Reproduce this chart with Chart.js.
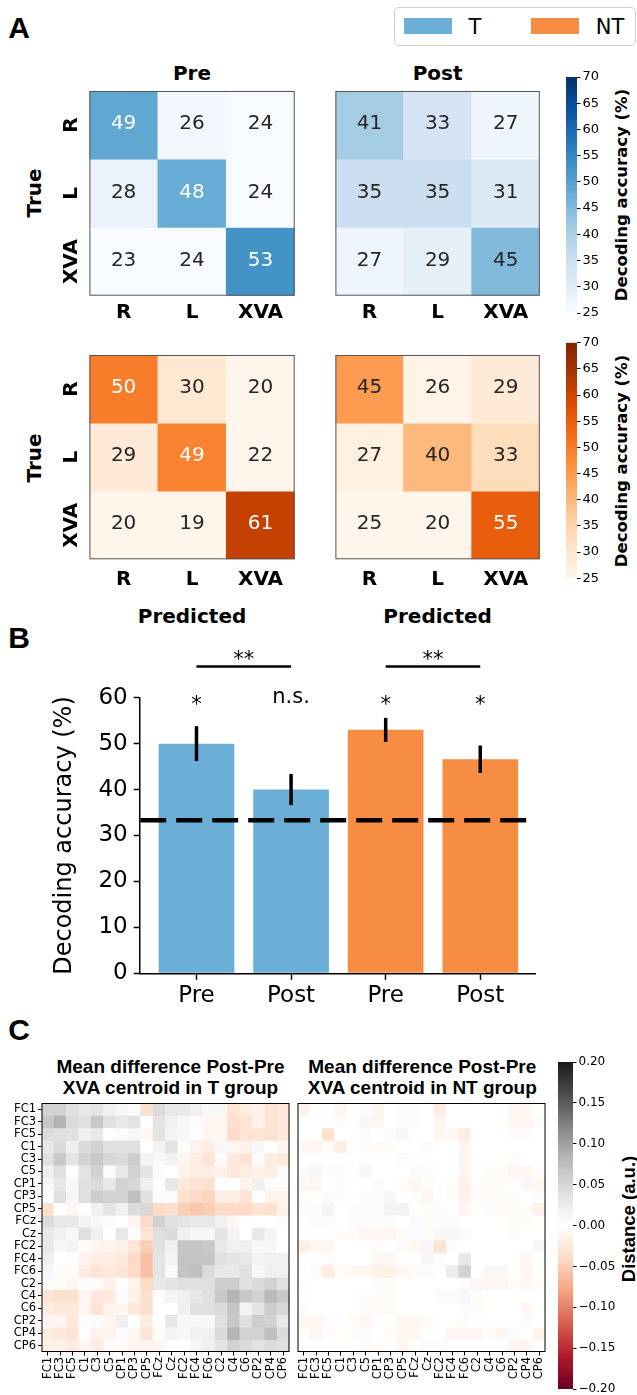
<!DOCTYPE html>
<html>
<head>
<meta charset="utf-8">
<script src="https://cdn.jsdelivr.net/npm/chart.js@4.4.1/dist/chart.umd.min.js"></script>
<style>
  body { margin: 0; width: 637px; height: 1395px; position: relative; overflow: hidden; background: #fff; font-family: "DejaVu Sans"; color: #000; }
  canvas { position: absolute; }
  .t { position: absolute; line-height: 1; white-space: nowrap; transform: translate(-50%, -50%); }
  .r { transform: translate(-50%, -50%) rotate(-90deg); }
  .b { font-weight: bold; }
  .letter { font: bold 30px "Liberation Sans"; }
  .ctitle { position: absolute; transform: translateX(-50%); font: bold 19px "Liberation Sans"; line-height: 20.3px; text-align: center; white-space: nowrap; }
</style>
</head>
<body>
<div class="t letter" style="left:19px;top:27.5px">A</div>
<div class="t letter" style="left:19px;top:637.5px">B</div>
<div class="t letter" style="left:19px;top:1030px">C</div>

<div style="position:absolute;left:394px;top:7px;width:240px;height:37px;border:1.5px solid #cfcfcf;border-radius:5px;background:#fff"></div>
<div style="position:absolute;left:404px;top:18px;width:48px;height:16px;background:#6baed6"></div>
<div class="t" style="left:475px;top:26.7px;font-size:21px">T</div>
<div style="position:absolute;left:531px;top:18px;width:48px;height:16px;background:#f68d43"></div>
<div class="t" style="left:610px;top:26.7px;font-size:21px">NT</div>

<div class="t b" style="left:192px;top:72.5px;font-size:20px">Pre</div>
<div class="t b" style="left:437.6px;top:72.5px;font-size:20px">Post</div>
<div class="t b r" style="left:33.5px;top:193px;font-size:20px">True</div>
<div class="t b r" style="left:33.5px;top:457.5px;font-size:20px">True</div>
<div class="t b" style="left:192px;top:616px;font-size:20px">Predicted</div>
<div class="t b" style="left:437.6px;top:616px;font-size:20px">Predicted</div>
<div class="t b r" style="left:622px;top:194.5px;font-size:16.5px">Decoding accuracy (%)</div>
<div class="t b r" style="left:622px;top:460.5px;font-size:16.5px">Decoding accuracy (%)</div>

<div class="ctitle" style="left:170.5px;top:1057.3px">Mean difference Post-Pre<br>XVA centroid in T group</div>
<div class="ctitle" style="left:422.3px;top:1057.3px">Mean difference Post-Pre<br>XVA centroid in NT group</div>
<div class="t r" style="left:629px;top:1218.5px;font:bold 18.5px 'Liberation Sans'">Distance (a.u.)</div>

<script>
// panel A: confusion matrices (%), rows = true, cols = predicted
const classes = ["R", "L", "XVA"];
const cmPreT = [[49, 26, 24], [28, 48, 24], [23, 24, 53]];
const cmPostT = [[41, 33, 27], [35, 35, 31], [27, 29, 45]];
const cmPreNT = [[50, 30, 20], [29, 49, 22], [20, 19, 61]];
const cmPostNT = [[45, 26, 29], [27, 40, 33], [25, 20, 55]];
const cmRange = [25, 70];

// panel B
const sessions = ["Pre", "Post", "Pre", "Post"];
const accuracy = [50, 40, 53, 46.6];
const accuracyErr = [3.8, 3.4, 2.6, 3.0];
const barGroups = ["T", "T", "NT", "NT"];
const barMarks = ["*", "n.s.", "*", "*"];
const sigPairs = [[0, 1], [2, 3]];
const sigMarks = ["**", "**"];
const chance = 33.33;

// panel C: mean difference Post-Pre
const channels = ["FC1", "FC3", "FC5", "C1", "C3", "C5", "CP1", "CP3", "CP5", "FCz",
  "Cz", "FC2", "FC4", "FC6", "C2", "C4", "C6", "CP2", "CP4", "CP6"];
const diffT = [
  [0.055, 0.055, 0.04, 0.03, 0.035, 0.02, 0.01, 0.005, -0.035, 0.045, 0.03, 0.03, 0.02, 0.01, 0.01, -0.03, -0.02, -0.015, -0.03, -0.025],
  [0.065, 0.085, 0.045, 0.04, 0.065, 0.04, 0.03, 0.035, 0, 0.035, 0.02, 0.01, -0.005, -0.01, -0.01, -0.035, -0.03, -0.015, -0.03, -0.025],
  [0.045, 0.04, 0.04, 0.02, 0.03, 0, 0.005, 0.01, -0.01, 0.035, 0.015, 0.01, 0, -0.01, -0.01, -0.04, -0.03, -0.03, -0.035, -0.025],
  [0.03, 0.045, 0.02, 0.045, 0.055, 0.04, 0.04, 0.04, 0, 0.015, 0.035, -0.005, -0.015, -0.02, 0.01, -0.01, -0.015, 0.01, 0, -0.01],
  [0.04, 0.065, 0.035, 0.055, 0.065, 0.05, 0.045, 0.06, 0.015, 0.01, 0.015, -0.01, -0.02, -0.03, -0.005, -0.025, -0.03, 0.005, -0.02, -0.025],
  [0.02, 0.04, 0, 0.035, 0.055, 0.005, 0.03, 0.055, 0.035, 0.005, 0, -0.015, -0.02, -0.02, -0.015, -0.025, -0.02, -0.015, -0.02, -0.005],
  [0.01, 0.03, 0.01, 0.04, 0.045, 0.03, 0.055, 0.05, 0.02, 0, 0.03, -0.025, -0.03, -0.035, 0, 0, -0.015, 0.02, 0.005, -0.005],
  [0.005, 0.04, 0.01, 0.04, 0.06, 0.055, 0.055, 0.075, 0.04, -0.005, 0.005, -0.035, -0.04, -0.045, -0.02, -0.02, -0.03, 0, -0.015, -0.015],
  [-0.035, 0, -0.01, 0, 0.02, 0.035, 0.02, 0.045, 0.05, -0.04, -0.035, -0.05, -0.055, -0.05, -0.04, -0.04, -0.04, -0.03, -0.035, -0.015],
  [0.045, 0.03, 0.03, 0.015, 0.01, 0.005, 0, -0.01, -0.04, 0.055, 0.04, 0.035, 0.03, 0.03, 0.02, -0.01, 0, 0, 0, -0.005],
  [0.03, 0.02, 0.01, 0.04, 0.02, 0, 0.03, 0.005, -0.03, 0.04, 0.045, 0.02, 0.01, 0.01, 0.035, 0.015, 0, 0.03, 0.015, 0],
  [0.03, 0.01, 0.015, -0.005, -0.01, -0.015, -0.015, -0.03, -0.05, 0.04, 0.02, 0.07, 0.07, 0.065, 0.03, 0.02, 0.02, 0.01, 0.01, 0],
  [0.02, 0, 0, -0.015, -0.02, -0.02, -0.025, -0.04, -0.06, 0.035, 0.015, 0.07, 0.07, 0.07, 0.04, 0.035, 0.03, 0.015, 0.02, 0.02],
  [0.01, -0.005, -0.005, -0.02, -0.03, -0.025, -0.03, -0.04, -0.06, 0.035, 0.005, 0.07, 0.075, 0.045, 0.03, 0.03, 0.04, 0.01, 0.02, 0.02],
  [0.005, -0.005, -0.01, 0.005, -0.005, -0.015, 0, -0.015, -0.04, 0.03, 0.035, 0.04, 0.04, 0.04, 0.06, 0.06, 0.04, 0.045, 0.055, 0.04],
  [-0.03, -0.035, -0.035, -0.01, -0.025, -0.025, 0.005, -0.015, -0.035, -0.005, 0.015, 0.02, 0.03, 0.04, 0.065, 0.085, 0.065, 0.055, 0.08, 0.065],
  [-0.02, -0.025, -0.025, -0.01, -0.03, -0.015, -0.01, -0.025, -0.035, 0, 0, 0.02, 0.04, 0.04, 0.045, 0.07, 0.015, 0.035, 0.06, 0.05],
  [-0.01, -0.01, -0.025, 0.005, 0.005, -0.01, 0.02, 0, -0.02, 0, 0.03, 0.01, 0.01, 0.01, 0.04, 0.065, 0.04, 0.06, 0.055, 0.03],
  [-0.02, -0.025, -0.03, 0, -0.015, -0.015, 0.005, -0.01, -0.03, -0.005, 0.015, 0.01, 0.02, 0.02, 0.045, 0.085, 0.055, 0.055, 0.075, 0.045],
  [-0.015, -0.015, -0.02, -0.01, -0.02, -0.005, -0.005, -0.01, -0.01, -0.01, 0, 0, 0.01, 0.02, 0.035, 0.055, 0.045, 0.035, 0.045, 0.04]
];
const diffNT = [
  [-0.015, 0, 0, -0.01, 0, 0.005, -0.01, 0, 0.005, 0.005, 0, -0.02, 0, 0, 0, 0, 0, -0.01, -0.01, 0],
  [0, 0, 0, -0.005, 0, 0.01, -0.01, 0, 0.005, 0.005, 0, -0.01, 0, 0, 0, 0, 0, -0.01, -0.01, 0.005],
  [0, 0, -0.035, 0, 0, 0.005, 0, 0.005, 0.01, 0, 0, -0.01, -0.01, -0.02, 0, 0, 0, -0.005, -0.005, 0],
  [-0.01, -0.01, -0.005, -0.02, 0, -0.005, -0.005, -0.005, 0, 0, -0.005, 0, 0, -0.01, 0, 0, 0, 0, 0, 0],
  [0, 0, 0, 0, 0, 0, 0, 0, 0.005, 0, 0, 0, 0, -0.01, 0, 0, 0, -0.005, 0, 0],
  [0.005, 0.01, 0.005, -0.005, 0, 0.01, 0, 0, 0, 0.005, -0.005, 0, 0, -0.01, 0, -0.005, -0.005, -0.01, -0.01, -0.005],
  [-0.01, -0.01, 0, -0.005, 0, 0, 0.005, 0, -0.005, -0.01, -0.005, 0, -0.005, -0.015, -0.005, -0.005, -0.005, 0, 0.01, -0.01],
  [-0.005, 0, 0.005, -0.005, 0, 0.005, 0.005, 0.01, 0, -0.005, -0.01, 0, -0.005, -0.015, -0.005, -0.005, -0.005, -0.005, 0, -0.005],
  [0.005, 0.005, 0.015, 0, 0.005, 0.005, 0.005, 0.015, 0.015, 0, -0.005, 0.005, 0, -0.01, 0, -0.005, -0.005, -0.005, -0.005, -0.015],
  [0, 0.005, 0.005, 0, 0.005, -0.005, -0.005, 0.005, 0, 0.005, -0.005, -0.005, 0.005, 0, 0, 0, 0, -0.005, -0.005, 0],
  [0, 0, 0, -0.005, -0.005, -0.01, -0.01, -0.01, -0.005, 0.005, -0.005, 0.01, 0.01, 0.005, 0, 0, 0, -0.005, 0, 0],
  [-0.02, -0.01, -0.01, 0, 0, 0, -0.005, 0, 0.005, -0.01, 0.01, -0.03, -0.005, 0, 0, 0, 0, 0, 0, 0.01],
  [0, 0, -0.005, 0, 0, 0, -0.01, -0.01, 0, 0, 0.01, -0.005, 0, 0.03, 0, 0, 0, 0, -0.01, 0],
  [0, -0.005, -0.02, -0.005, -0.01, -0.01, -0.015, -0.015, -0.01, 0.005, 0.005, 0, 0.025, 0.055, 0, 0.01, 0.01, 0, -0.01, 0],
  [-0.005, 0, 0, 0, 0, 0, -0.005, -0.005, 0, 0, 0, 0, 0, 0.005, -0.01, -0.01, -0.01, -0.005, -0.01, -0.005],
  [0, 0, 0, 0, 0, -0.005, -0.005, -0.005, 0, 0, 0, 0.005, 0.005, 0.01, -0.005, 0, 0, 0, 0, 0],
  [0.005, 0, 0, 0, 0, -0.005, -0.005, -0.005, 0, 0, 0, 0, 0, 0.005, -0.005, 0, 0, 0, -0.01, 0],
  [-0.01, -0.01, -0.005, 0, -0.005, -0.01, 0, 0, -0.01, -0.01, -0.005, 0, 0, -0.005, 0, 0, 0, 0, 0.005, 0],
  [-0.005, -0.01, -0.005, 0, -0.005, 0.005, 0, -0.005, -0.01, -0.01, 0, 0, -0.01, -0.01, -0.01, -0.005, -0.01, 0.005, 0, -0.015],
  [0, 0, 0, 0, 0, -0.005, -0.005, 0, -0.01, 0, 0.005, 0.005, 0, 0, 0, 0, 0, -0.01, -0.01, 0]
];
const diffRange = [-0.2, 0.2];

const groupColors = { T: "#6baed6", NT: "#f68d43" };
const blues = ["#f7fbff", "#deebf7", "#c6dbef", "#9ecae1", "#6baed6", "#4292c6", "#2171b5", "#08519c", "#08306b"];
const oranges = ["#fff5eb", "#fee6ce", "#fdd0a2", "#fdae6b", "#fd8d3c", "#f16913", "#d94801", "#a63603", "#7f2704"];
const rdgy = ["#67001f", "#b2182b", "#d6604d", "#f4a582", "#fddbc7", "#ffffff", "#e0e0e0", "#bababa", "#878787", "#4d4d4d", "#1a1a1a"];

Chart.defaults.font.family = "'DejaVu Sans'";
Chart.defaults.color = "#000";
Chart.defaults.animation = false;
Chart.defaults.responsive = false;
Chart.defaults.devicePixelRatio = 1;
Chart.defaults.plugins.legend.display = false;
Chart.defaults.plugins.tooltip.enabled = false;

function makeCmap(stops, lo, hi) {
  const rgb = stops.map(h => [1, 3, 5].map(k => parseInt(h.slice(k, k + 2), 16)));
  return v => {
    const t = Math.min(1, Math.max(0, (v - lo) / (hi - lo))) * (rgb.length - 1);
    const k = Math.min(Math.floor(t), rgb.length - 2);
    const f = t - k;
    return rgb[k].map((c, m) => Math.round(c + (rgb[k + 1][m] - c) * f));
  };
}
const css = c => `rgb(${c[0]},${c[1]},${c[2]})`;

// seaborn style: dark text on light cells, white on dark ones
function textOn(rgb) {
  const lin = rgb.map(c => {
    c /= 255;
    return c <= 0.03928 ? c / 12.92 : Math.pow((c + 0.055) / 1.055, 2.4);
  });
  const lum = 0.2126 * lin[0] + 0.7152 * lin[1] + 0.0722 * lin[2];
  return lum > 0.408 ? "#262626" : "#ffffff";
}

function addCanvas(box) {
  const c = document.createElement("canvas");
  c.width = box.w;
  c.height = box.h;
  c.style.left = box.x + "px";
  c.style.top = box.y + "px";
  c.style.width = box.w + "px";
  c.style.height = box.h + "px";
  document.body.appendChild(c);
  return c;
}

function gradientFill(stops) {
  return c => {
    const a = c.chart.chartArea;
    if (!a) return stops[0];
    const g = c.chart.ctx.createLinearGradient(0, a.bottom, 0, a.top);
    stops.forEach((s, k) => g.addColorStop(k / (stops.length - 1), s));
    return g;
  };
}

function noPad(s) {
  s.paddingLeft = s.paddingRight = s.paddingTop = s.paddingBottom = 0;
}

function matrixPlugin(matrix, cmap, rowLabels) {
  return {
    id: "matrixText",
    afterDatasetsDraw(chart) {
      const { ctx, chartArea: a, scales: { y } } = chart;
      ctx.save();
      ctx.font = '20px "DejaVu Sans"';
      ctx.textAlign = "center";
      ctx.textBaseline = "middle";
      matrix.forEach((row, i) => {
        chart.getDatasetMeta(i).data.forEach((bar, j) => {
          ctx.fillStyle = textOn(cmap(row[j]));
          ctx.fillText(String(row[j]), bar.x, (bar.y + bar.base) / 2 - 1);
        });
      });
      ctx.strokeStyle = "#555";
      ctx.lineWidth = 1;
      ctx.strokeRect(a.left + 0.5, a.top + 0.5, a.width - 1, a.height - 1);
      if (rowLabels) {
        ctx.fillStyle = "#000";
        ctx.font = 'bold 20px "DejaVu Sans"';
        classes.forEach((lab, i) => {
          ctx.save();
          ctx.translate(a.left - 17.4, y.getPixelForValue(i + 0.5));
          ctx.rotate(-Math.PI / 2);
          ctx.fillText(lab, 0, 0);
          ctx.restore();
        });
      }
      ctx.restore();
    }
  };
}

function confusionChart(box, area, matrix, stops, rowLabels, tickPad) {
  const cmap = makeCmap(stops, cmRange[0], cmRange[1]);
  const xH = box.y + box.h - area.b;
  return new Chart(addCanvas(box), {
    type: "bar",
    data: {
      labels: classes,
      datasets: matrix.map((row, i) => ({
        data: row.map(() => [i, i + 1]),
        backgroundColor: row.map(v => css(cmap(v))),
        borderWidth: 0,
        barPercentage: 1,
        categoryPercentage: 1,
        grouped: false
      }))
    },
    options: {
      layout: { padding: { left: area.l - box.x, top: area.t - box.y, right: box.x + box.w - area.r, bottom: 0 } },
      scales: {
        x: {
          grid: { display: false, drawTicks: false },
          border: { display: false },
          ticks: { font: { size: 20, weight: "bold" }, padding: tickPad, maxRotation: 0 },
          afterFit: s => { s.height = xH; noPad(s); }
        },
        y: { display: false, min: 0, max: 3, reverse: true }
      }
    },
    plugins: [matrixPlugin(matrix, cmap, rowLabels)]
  });
}

function colorbarChart(box, area, stops, range, step, fontSize, fmt) {
  const yW = box.x + box.w - area.r;
  return new Chart(addCanvas(box), {
    type: "bar",
    data: {
      labels: [""],
      datasets: [{
        data: [[range[0], range[1]]],
        backgroundColor: gradientFill(stops),
        borderWidth: 0,
        barPercentage: 1,
        categoryPercentage: 1
      }]
    },
    options: {
      layout: { padding: { left: area.l - box.x, top: area.t - box.y, right: 0, bottom: box.y + box.h - area.b } },
      scales: {
        x: { display: false },
        y: {
          position: "right",
          min: range[0],
          max: range[1],
          grid: { drawOnChartArea: false, tickLength: 3.5, tickColor: "#000", tickWidth: 1 },
          border: { display: false },
          ticks: { stepSize: step, font: { size: fontSize }, padding: 2, callback: fmt },
          afterFit: s => { s.width = yW; noPad(s); }
        }
      }
    }
  });
}

const framePlugin = {
  id: "frame",
  afterDatasetsDraw(chart) {
    const { ctx, chartArea: a } = chart;
    ctx.save();
    ctx.strokeStyle = "#000";
    ctx.lineWidth = 1;
    ctx.strokeRect(a.left + 0.5, a.top + 0.5, a.width - 1, a.height - 1);
    ctx.restore();
  }
};

function heatmapChart(box, area, matrix, showY) {
  const cmap = makeCmap(rdgy, diffRange[0], diffRange[1]);
  const yW = showY ? area.l - box.x : 0;
  const xH = box.y + box.h - area.b;
  return new Chart(addCanvas(box), {
    type: "bar",
    data: {
      labels: channels,
      datasets: matrix.map((row, i) => ({
        data: row.map(() => [i, i + 1]),
        backgroundColor: row.map(v => css(cmap(v))),
        borderWidth: 0,
        barPercentage: 1,
        categoryPercentage: 1,
        grouped: false
      }))
    },
    options: {
      layout: { padding: { left: area.l - box.x - yW, top: area.t - box.y, right: box.x + box.w - area.r, bottom: 0 } },
      scales: {
        x: {
          grid: { drawOnChartArea: false, offset: false, tickLength: 3.5, tickColor: "#000", tickWidth: 1 },
          border: { display: false },
          ticks: { font: { size: 11.5 }, padding: 1.5, minRotation: 90, maxRotation: 90, autoSkip: false },
          afterFit: s => { s.height = xH; noPad(s); }
        },
        y: {
          display: showY,
          min: 0,
          max: channels.length,
          reverse: true,
          grid: { drawOnChartArea: false, tickLength: 3.5, tickColor: "#000", tickWidth: 1 },
          border: { display: false },
          afterBuildTicks: s => { s.ticks = channels.map((c, i) => ({ value: i + 0.5 })); },
          ticks: { font: { size: 11.5 }, padding: 2, autoSkip: false, callback: (v, i) => channels[i] },
          afterFit: s => { s.width = yW; noPad(s); }
        }
      }
    },
    plugins: [framePlugin]
  });
}

// panel B annotations: error bars and significance marks
const barAnnotations = {
  id: "barAnnotations",
  afterDatasetsDraw(chart) {
    const { ctx, scales: { x, y } } = chart;
    ctx.save();
    ctx.strokeStyle = "#000";
    ctx.fillStyle = "#000";
    ctx.lineWidth = 3.5;
    accuracy.forEach((v, i) => {
      const px = x.getPixelForValue(i);
      ctx.beginPath();
      ctx.moveTo(px, y.getPixelForValue(v - accuracyErr[i]));
      ctx.lineTo(px, y.getPixelForValue(v + accuracyErr[i]));
      ctx.stroke();
    });
    ctx.font = '21px "DejaVu Sans"';
    ctx.textAlign = "center";
    ctx.textBaseline = "alphabetic";
    barMarks.forEach((m, i) => {
      ctx.fillText(m, x.getPixelForValue(i), y.getPixelForValue(m === "*" ? 57.1 : 58.85));
    });
    ctx.lineWidth = 2.5;
    sigPairs.forEach(([a, b], k) => {
      const ly = y.getPixelForValue(66.8);
      ctx.beginPath();
      ctx.moveTo(x.getPixelForValue(a), ly);
      ctx.lineTo(x.getPixelForValue(b), ly);
      ctx.stroke();
      ctx.fillText(sigMarks[k], x.getPixelForValue((a + b) / 2), y.getPixelForValue(66.8));
    });
    ctx.restore();
  }
};

function init() {
  const cmTop = { t: 91, b: 295.7 };
  const cmBot = { t: 355, b: 559.3 };
  confusionChart({ x: 45, y: 85, w: 255, h: 245 }, { l: 89.4, r: 294.7, ...cmTop }, cmPreT, blues, true, 5);
  confusionChart({ x: 300, y: 85, w: 250, h: 245 }, { l: 335.4, r: 539.8, ...cmTop }, cmPostT, blues, false, 5);
  confusionChart({ x: 45, y: 349, w: 255, h: 245 }, { l: 89.4, r: 294.7, ...cmBot }, cmPreNT, oranges, true, 8);
  confusionChart({ x: 300, y: 349, w: 250, h: 245 }, { l: 335.4, r: 539.8, ...cmBot }, cmPostNT, oranges, false, 8);
  colorbarChart({ x: 556, y: 70, w: 81, h: 250 }, { l: 566, r: 577, t: 77, b: 313 }, blues, cmRange, 5, 13);
  colorbarChart({ x: 556, y: 335, w: 81, h: 250 }, { l: 566, r: 577, t: 342.7, b: 578.3 }, oranges, cmRange, 5, 13);

  initBars();

  heatmapChart({ x: 0, y: 1097, w: 294, h: 298 }, { l: 41.5, r: 289.5, t: 1103, b: 1352 }, diffT, true);
  heatmapChart({ x: 293, y: 1097, w: 258, h: 298 }, { l: 297.5, r: 545.5, t: 1103, b: 1352 }, diffNT, false);
  colorbarChart({ x: 550, y: 1055, w: 87, h: 340 }, { l: 558, r: 573, t: 1062, b: 1389 }, rdgy, diffRange, 0.05, 12,
    v => (v < -1e-9 ? "\u2212" : "") + Math.abs(v).toFixed(2));
}

function initBars() {
  const box = { x: 30, y: 636, w: 540, h: 384 };
  const area = { l: 140.2, r: 535.8, t: 697.7, b: 973.3 };
  const xLimits = [-0.595, 3.587];
  const axisStyle = {
    grid: { drawOnChartArea: false, offset: false, tickLength: 6.5, tickColor: "#000", tickWidth: 1.5 },
    border: { color: "#000", width: 1.5 }
  };
  new Chart(addCanvas(box), {
    type: "bar",
    data: {
      datasets: [
        {
          type: "line",
          data: [{ x: xLimits[0], y: chance }, { x: xLimits[1], y: chance }],
          borderColor: "#000",
          borderWidth: 4.5,
          borderDash: [26, 10],
          pointRadius: 0,
          order: 0
        },
        {
          type: "bar",
          data: accuracy.map((v, i) => ({ x: i, y: v })),
          backgroundColor: barGroups.map(g => groupColors[g]),
          borderWidth: 0,
          barPercentage: 1,
          categoryPercentage: 0.8,
          order: 1
        }
      ]
    },
    options: {
      layout: { padding: { left: 0, top: area.t - box.y, right: box.x + box.w - area.r, bottom: 0 } },
      scales: {
        x: {
          type: "linear",
          offset: false,
          min: xLimits[0],
          max: xLimits[1],
          ...axisStyle,
          ticks: { stepSize: 1, includeBounds: false, font: { size: 23 }, padding: 2.6, maxRotation: 0,
            callback: v => (Number.isInteger(v) ? sessions[v] : "") },
          afterFit: s => { s.height = box.y + box.h - area.b; noPad(s); }
        },
        y: {
          min: 0,
          max: 60,
          ...axisStyle,
          ticks: { stepSize: 10, font: { size: 23 }, padding: 6 },
          title: { display: true, text: "Decoding accuracy (%)", font: { size: 24, lineHeight: 1.2 }, padding: { top: 20.2, bottom: 0 } },
          afterFit: s => { s.width = area.l - box.x; noPad(s); }
        }
      }
    },
    plugins: [barAnnotations]
  });
}

window.onload = init;
</script>
</body>
</html>
